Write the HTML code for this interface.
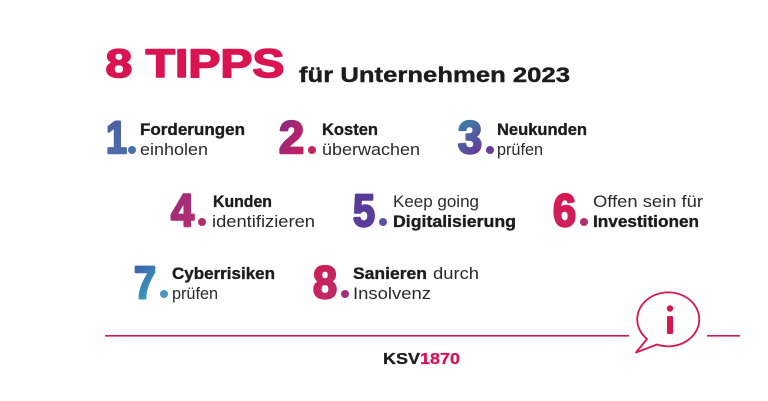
<!DOCTYPE html>
<html>
<head>
<meta charset="utf-8">
<style>
  html,body{margin:0;padding:0;background:#fff;}
  svg{display:block;}
  text{font-family:"Liberation Sans", Arial, sans-serif;}
  .b{font-weight:bold;fill:#1c1c1c;stroke:#1c1c1c;stroke-width:0.35;font-size:16.5px;}
  .r{font-weight:normal;fill:#2a2a2a;font-size:17px;}
  .n{font-weight:bold;font-size:45px;stroke-width:2.4;stroke-linejoin:round;}
</style>
</head>
<body>
<svg width="768" height="401" viewBox="0 0 768 401" xmlns="http://www.w3.org/2000/svg">
  <defs>
    <linearGradient id="g1" x1="0" y1="0" x2="0.3" y2="1">
      <stop offset="0" stop-color="#4a5d9f"/><stop offset="1" stop-color="#4f6cae"/>
    </linearGradient>
    <linearGradient id="g2" x1="0" y1="0" x2="1" y2="1">
      <stop offset="0" stop-color="#7d2f8e"/><stop offset="1" stop-color="#d61b52"/>
    </linearGradient>
    <linearGradient id="g3" x1="0" y1="0" x2="0.4" y2="1">
      <stop offset="0" stop-color="#2c93a9"/><stop offset="1" stop-color="#673a9c"/>
    </linearGradient>
    <linearGradient id="g4" x1="0" y1="0" x2="1" y2="1">
      <stop offset="0" stop-color="#952c7e"/><stop offset="1" stop-color="#b92e6c"/>
    </linearGradient>
    <linearGradient id="g5" x1="0" y1="0" x2="0" y2="1">
      <stop offset="0" stop-color="#563a98"/><stop offset="1" stop-color="#5c3d9c"/>
    </linearGradient>
    <linearGradient id="g6" x1="0" y1="0" x2="0" y2="1">
      <stop offset="0" stop-color="#d81a52"/><stop offset="1" stop-color="#cc1f5a"/>
    </linearGradient>
    <linearGradient id="g7" x1="0" y1="0" x2="0.5" y2="1">
      <stop offset="0" stop-color="#3b55a2"/><stop offset="1" stop-color="#3aa2c2"/>
    </linearGradient>
    <linearGradient id="g8" x1="0" y1="0" x2="0.4" y2="1">
      <stop offset="0" stop-color="#d21a50"/><stop offset="1" stop-color="#bd2b6a"/>
    </linearGradient>
  </defs>

  <rect width="768" height="401" fill="#ffffff"/>

  <!-- Title -->
  <text x="105.5" y="77" font-size="40" font-weight="bold" fill="#da1450" stroke="#da1450" stroke-width="1.6" stroke-linejoin="round" textLength="179" lengthAdjust="spacingAndGlyphs">8 TIPPS</text>
  <text x="299" y="82" font-size="21" font-weight="bold" fill="#1c1c1c" stroke="#1c1c1c" stroke-width="0.4" textLength="271" lengthAdjust="spacingAndGlyphs">für Unternehmen 2023</text>

  <!-- Row 1 -->
  <text class="n" x="106" y="153" fill="url(#g1)" stroke="url(#g1)" textLength="21" lengthAdjust="spacingAndGlyphs">1</text>
  <circle cx="132" cy="150" r="4" fill="#4c6fb1"/>
  <text class="b" x="140" y="135" textLength="105" lengthAdjust="spacingAndGlyphs">Forderungen</text>
  <text class="r" x="140" y="155" textLength="68" lengthAdjust="spacingAndGlyphs">einholen</text>

  <text class="n" x="279" y="153" fill="url(#g2)" stroke="url(#g2)" textLength="25" lengthAdjust="spacingAndGlyphs">2</text>
  <circle cx="312" cy="150" r="4" fill="#c8245c"/>
  <text class="b" x="322" y="135" textLength="56" lengthAdjust="spacingAndGlyphs">Kosten</text>
  <text class="r" x="322" y="155" textLength="98" lengthAdjust="spacingAndGlyphs">überwachen</text>

  <text class="n" x="458" y="153" fill="url(#g3)" stroke="url(#g3)" textLength="24" lengthAdjust="spacingAndGlyphs">3</text>
  <circle cx="490" cy="150" r="4" fill="#6a3c9c"/>
  <text class="b" x="497" y="135" textLength="90" lengthAdjust="spacingAndGlyphs">Neukunden</text>
  <text class="r" x="497" y="155" textLength="46" lengthAdjust="spacingAndGlyphs">prüfen</text>

  <!-- Row 2 -->
  <text class="n" x="171" y="226" fill="url(#g4)" stroke="url(#g4)" textLength="23" lengthAdjust="spacingAndGlyphs">4</text>
  <circle cx="202" cy="222" r="4" fill="#b02c6c"/>
  <text class="b" x="213" y="207" textLength="59" lengthAdjust="spacingAndGlyphs">Kunden</text>
  <text class="r" x="212" y="227" textLength="103" lengthAdjust="spacingAndGlyphs">identifizieren</text>

  <text class="n" x="353" y="226" fill="url(#g5)" stroke="url(#g5)" textLength="22" lengthAdjust="spacingAndGlyphs">5</text>
  <circle cx="383" cy="222" r="4" fill="#5a51a2"/>
  <text class="r" x="393" y="207" textLength="86" lengthAdjust="spacingAndGlyphs">Keep going</text>
  <text class="b" x="393" y="227" textLength="123" lengthAdjust="spacingAndGlyphs">Digitalisierung</text>

  <text class="n" x="553" y="226" fill="url(#g6)" stroke="url(#g6)" textLength="23" lengthAdjust="spacingAndGlyphs">6</text>
  <circle cx="584" cy="222" r="4" fill="#b3306f"/>
  <text class="r" x="593" y="207" textLength="110" lengthAdjust="spacingAndGlyphs">Offen sein für</text>
  <text class="b" x="593" y="227" textLength="106" lengthAdjust="spacingAndGlyphs">Investitionen</text>

  <!-- Row 3 -->
  <text class="n" x="134" y="298" fill="url(#g7)" stroke="url(#g7)" textLength="22" lengthAdjust="spacingAndGlyphs">7</text>
  <circle cx="164" cy="294" r="4" fill="#4a98c2"/>
  <text class="b" x="172" y="279" textLength="103" lengthAdjust="spacingAndGlyphs">Cyberrisiken</text>
  <text class="r" x="172" y="299" textLength="46" lengthAdjust="spacingAndGlyphs">prüfen</text>

  <text class="n" x="313" y="298" fill="url(#g8)" stroke="url(#g8)" textLength="24" lengthAdjust="spacingAndGlyphs">8</text>
  <circle cx="345" cy="294" r="4" fill="#a2307c"/>
  <text class="b" x="353" y="279" textLength="74" lengthAdjust="spacingAndGlyphs">Sanieren</text>
  <text class="r" x="433" y="279" textLength="46" lengthAdjust="spacingAndGlyphs">durch</text>
  <text class="r" x="353" y="299" textLength="78" lengthAdjust="spacingAndGlyphs">Insolvenz</text>

  <!-- Divider lines -->
  <rect x="105" y="335" width="524" height="1.6" fill="#d8174f"/>
  <rect x="707" y="335" width="33" height="1.6" fill="#d8174f"/>

  <!-- Info bubble -->
  <path d="M 647 339 A 31 27 0 1 1 657 344.5 L 636 352.5 Z" fill="none" stroke="#d8174f" stroke-width="1.8" stroke-linejoin="round"/>
  <circle cx="670" cy="308.5" r="3.2" fill="#d8174f"/>
  <rect x="667" y="316" width="6" height="18" rx="1" fill="#d8174f"/>

  <!-- Logo -->
  <text x="383" y="364" font-size="16" font-weight="bold" stroke-width="0.3" textLength="77" lengthAdjust="spacingAndGlyphs"><tspan fill="#1e1e1e" stroke="#1e1e1e">KSV</tspan><tspan fill="#d4145a" stroke="#d4145a">1870</tspan></text>
</svg>
</body>
</html>
